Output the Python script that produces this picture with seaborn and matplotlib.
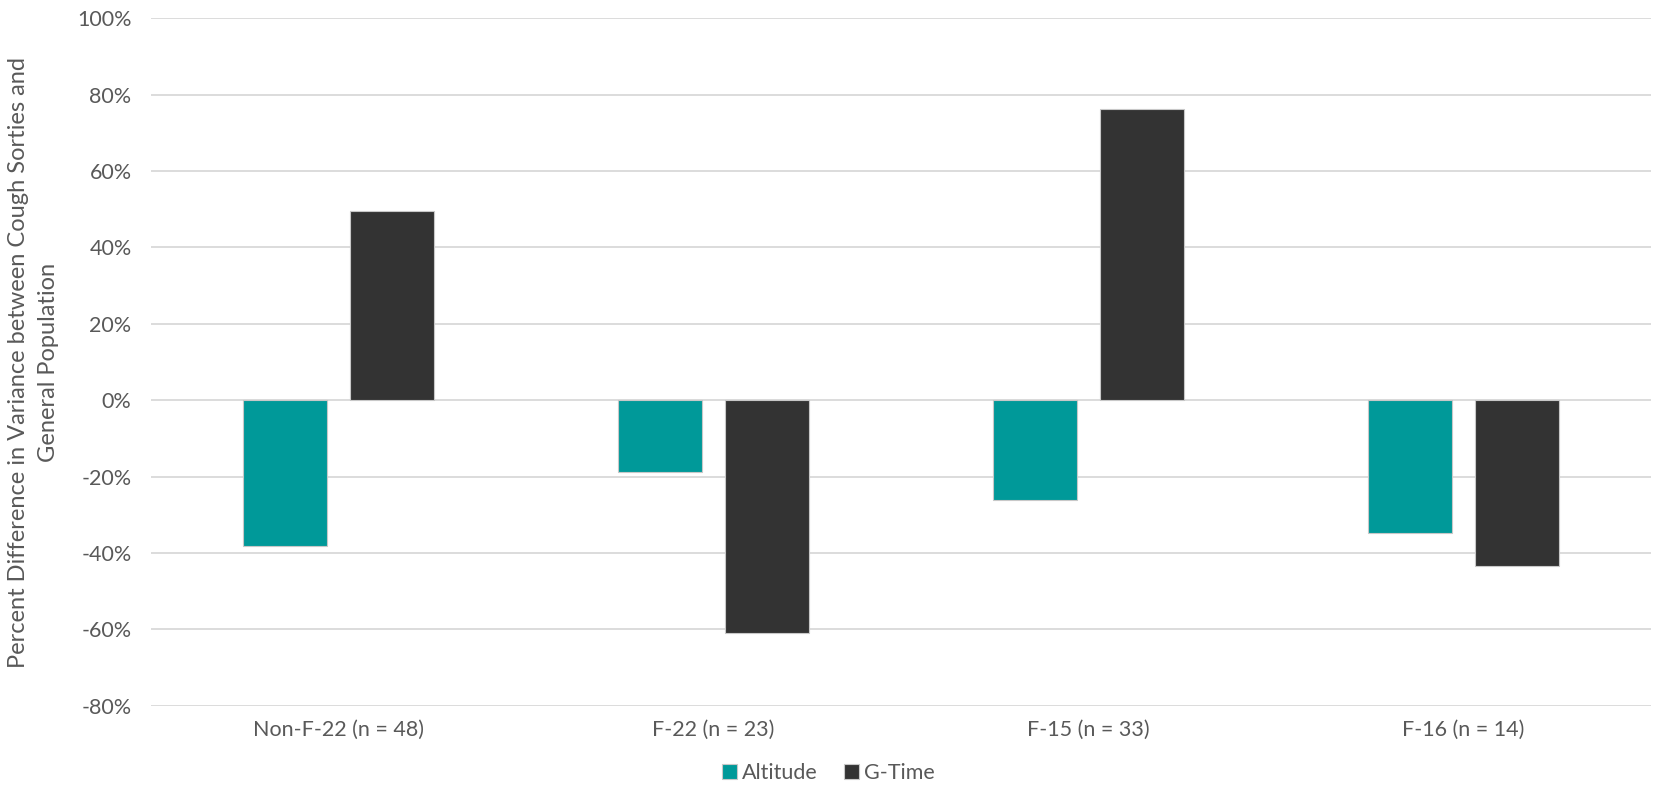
import matplotlib
matplotlib.use("Agg")
import matplotlib.pyplot as plt
import seaborn as sns
import pandas as pd
from matplotlib.ticker import FuncFormatter

categories = ["Non-F-22 (n = 48)", "F-22 (n = 23)", "F-15 (n = 33)", "F-16 (n = 14)"]
altitude = [-38.2, -18.8, -26.1, -34.8]
g_time = [49.6, -60.9, 76.3, -43.4]
series_names = ["Altitude", "G-Time"]

df = pd.DataFrame({
    "category": categories * 2,
    "series": [series_names[0]] * len(categories) + [series_names[1]] * len(categories),
    "value": altitude + g_time,
})

sns.set_theme(style="white")
plt.rcParams["font.family"] = ["Lato", "DejaVu Sans"]
text_color = "#595959"
fs = 15.5

fig = plt.figure(figsize=(16.57, 7.93), dpi=100)
ax = fig.add_axes([0.0911, 0.110, 0.9053, 0.867])

ax.set_axisbelow(True)
ax.yaxis.grid(True, color="#d9d9d9", linewidth=1.3)

sns.barplot(
    data=df, x="category", y="value", hue="series",
    palette={"Altitude": "#009999", "G-Time": "#333333"},
    width=0.57, gap=0.21, ax=ax, errorbar=None,
    edgecolor="#c8c8c8", linewidth=0.8, saturation=1,
)

ax.set_ylim(-80, 100)
ax.set_yticks(range(-80, 101, 20))
ax.yaxis.set_major_formatter(FuncFormatter(lambda v, p: f"{int(v)}%"))
ax.set_xlim(-0.5, 3.5)
for s in ax.spines.values():
    s.set_visible(False)

ax.tick_params(axis="both", length=0, colors=text_color, labelsize=fs)
ax.tick_params(axis="y", pad=14)
ax.tick_params(axis="x", pad=10)
ax.set_xlabel("")
ax.set_ylabel("Percent Difference in Variance between Cough Sorties and\nGeneral Population",
              color=text_color, fontsize=fs + 1.5, labelpad=13, linespacing=1.55)

handles, labels = ax.get_legend_handles_labels()
ax.legend(handles, labels, loc="lower center", bbox_to_anchor=(0.5, -0.012),
          bbox_transform=fig.transFigure, ncol=2, frameon=False,
          fontsize=fs, labelcolor=text_color, handlelength=0.7, handleheight=0.7,
          handletextpad=0.25, columnspacing=1.2)

fig.savefig("out.png", dpi=100)
